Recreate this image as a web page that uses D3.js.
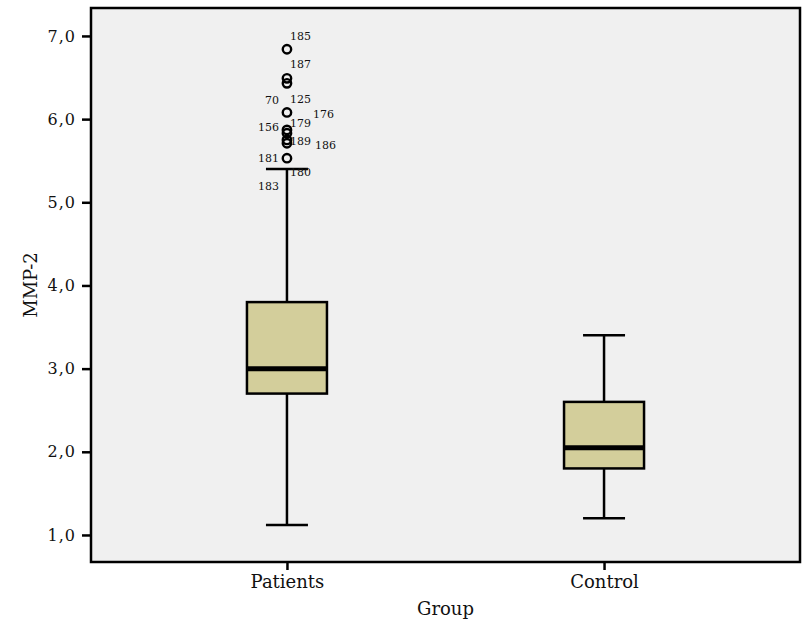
<!DOCTYPE html>
<html><head><meta charset="utf-8">
<script src="https://cdn.jsdelivr.net/npm/d3@7"></script>
<style>body{margin:0;background:#fff}svg{display:block}text{font-family:"DejaVu Serif",serif;fill:#111}</style>
</head><body><svg id="c" width="808" height="637"></svg>
<script>
// ---- data ----
const categories = ["Patients", "Control"];
const whiskerLow = [1.12, 1.20];
const q1 = [2.70, 1.80];
const median = [3.00, 2.05];
const q3 = [3.80, 2.60];
const whiskerHigh = [5.40, 3.40];
const outlierValues = [6.84, 6.49, 6.43, 6.08, 5.87, 5.83, 5.75, 5.71, 5.53];
const outlierLabels = ["185", "187", "70", "125", "176", "156", "179", "189", "186", "181", "180", "183"];
const outlierLabelValues = [6.84, 6.49, 6.08, 6.08, 5.87, 5.87, 5.83, 5.75, 5.71, 5.53, 5.53, 5.53];
const yTicks = [1, 2, 3, 4, 5, 6, 7];
const yTitle = "MMP-2";
const xTitle = "Group";

// ---- layout (pixels) ----
const labelDx = [3, 3, -8, 3, 26, -8, 3, 3, 28, -8, 3, -8];
const labelDy = [-9, -10, -8, -9, -12, 1, -6, 5, 6, 4, 18, 32];
const labelAnchor = ["start","start","end","start","start","end","start","start","start","end","start","end"];

const svg = d3.select("#c");
const L = 91, R = 800, T = 8, B = 562;
const y = d3.scaleLinear().domain([0.675, 7.336]).range([B, T]);
const x = d3.scalePoint().domain(categories).range([L, R]).padding(0.618);
const boxW = 80, capW = 42;

svg.append("rect").attr("x", L).attr("y", T).attr("width", R - L).attr("height", B - T)
  .attr("fill", "#f0f0f0");

const g = svg.append("g");
categories.forEach((c, i) => {
  const cx = x(c);
  g.append("line").attr("x1", cx).attr("x2", cx).attr("y1", y(whiskerHigh[i])).attr("y2", y(q3[i]))
    .attr("stroke", "#000").attr("stroke-width", 2.5);
  g.append("line").attr("x1", cx).attr("x2", cx).attr("y1", y(q1[i])).attr("y2", y(whiskerLow[i]))
    .attr("stroke", "#000").attr("stroke-width", 2.5);
  [whiskerHigh[i], whiskerLow[i]].forEach(v => {
    g.append("line").attr("x1", cx - capW / 2).attr("x2", cx + capW / 2).attr("y1", y(v)).attr("y2", y(v))
      .attr("stroke", "#000").attr("stroke-width", 2.5);
  });
  g.append("rect").attr("x", cx - boxW / 2).attr("width", boxW)
    .attr("y", y(q3[i])).attr("height", y(q1[i]) - y(q3[i]))
    .attr("fill", "#d3ce9b").attr("stroke", "#000").attr("stroke-width", 2.5);
  g.append("line").attr("x1", cx - boxW / 2).attr("x2", cx + boxW / 2).attr("y1", y(median[i])).attr("y2", y(median[i]))
    .attr("stroke", "#000").attr("stroke-width", 5);
});

const px = x("Patients");
g.selectAll("circle.o").data(outlierValues).enter().append("circle")
  .attr("cx", px).attr("cy", d => y(d)).attr("r", 4.2)
  .attr("fill", "none").attr("stroke", "#000").attr("stroke-width", 2.4);
g.selectAll("text.ol").data(outlierLabels).enter().append("text")
  .attr("x", (d, i) => px + labelDx[i]).attr("y", (d, i) => y(outlierLabelValues[i]) + labelDy[i])
  .attr("text-anchor", (d, i) => labelAnchor[i])
  .attr("font-size", 11).text(d => d);

// frame
svg.append("rect").attr("x", L).attr("y", T).attr("width", R - L).attr("height", B - T)
  .attr("fill", "none").attr("stroke", "#000").attr("stroke-width", 2.5);

// axes
const yAxis = d3.axisLeft(y).tickValues(yTicks).tickSize(9).tickPadding(6)
  .tickFormat(d => d3.format(".1f")(d).replace(".", ","));
const ya = svg.append("g").attr("transform", `translate(${L},0)`).call(yAxis);
ya.select(".domain").remove();
ya.selectAll(".tick line").attr("stroke", "#000").attr("stroke-width", 2.5);
ya.selectAll(".tick text").attr("font-size", 16).attr("letter-spacing", 1).attr("fill", "#111")
  .style("font-family", "DejaVu Serif");

const xAxis = d3.axisBottom(x).tickSize(8).tickPadding(5);
const xa = svg.append("g").attr("transform", `translate(0,${B})`).call(xAxis);
xa.select(".domain").remove();
xa.selectAll(".tick line").attr("stroke", "#000").attr("stroke-width", 2.5);
xa.selectAll(".tick text").attr("font-size", 18).attr("fill", "#111").style("font-family", "DejaVu Serif");

svg.append("text").attr("transform", `translate(37,285) rotate(-90)`)
  .attr("text-anchor", "middle").attr("font-size", 18).text(yTitle);
svg.append("text").attr("x", (L + R) / 2).attr("y", 615)
  .attr("text-anchor", "middle").attr("font-size", 18).text(xTitle);
</script></body></html>
